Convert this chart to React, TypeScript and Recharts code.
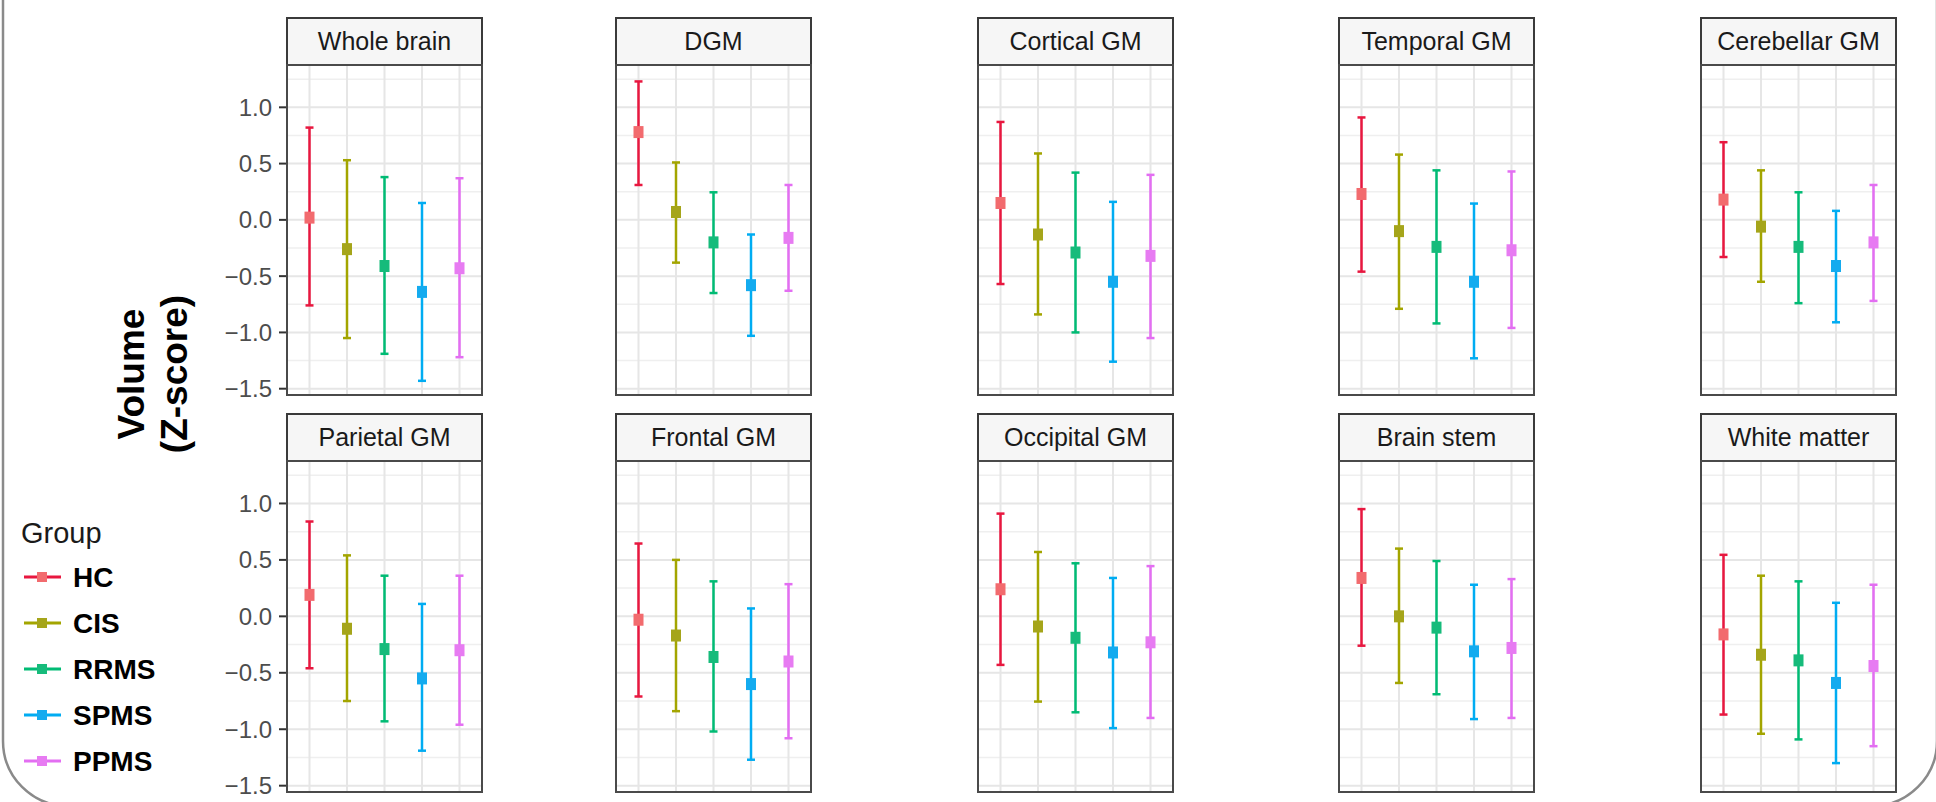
import { ComposedChart, Scatter, ErrorBar, XAxis, YAxis, CartesianGrid } from 'recharts'

const groups = ['HC', 'CIS', 'RRMS', 'SPMS', 'PPMS']
const barColors = ['#e8173f', '#a3a500', '#00bb74', '#00acf2', '#e36ef2']
const pointColors = ['#f26b6e', '#a5a51a', '#16bb7b', '#14abef', '#e77bf2']

const regions = [
  'Whole brain', 'DGM', 'Cortical GM', 'Temporal GM', 'Cerebellar GM',
  'Parietal GM', 'Frontal GM', 'Occipital GM', 'Brain stem', 'White matter',
]

// group means (Z-score), one row per region, groups in order HC..PPMS
const means = [
  [0.02, -0.26, -0.41, -0.64, -0.43],
  [0.78, 0.07, -0.2, -0.58, -0.16],
  [0.15, -0.13, -0.29, -0.55, -0.32],
  [0.23, -0.1, -0.24, -0.55, -0.27],
  [0.18, -0.06, -0.24, -0.41, -0.2],
  [0.19, -0.11, -0.29, -0.55, -0.3],
  [-0.03, -0.17, -0.36, -0.6, -0.4],
  [0.24, -0.09, -0.19, -0.32, -0.23],
  [0.34, 0.0, -0.1, -0.31, -0.28],
  [-0.16, -0.34, -0.39, -0.59, -0.44],
]

const uppers = [
  [0.82, 0.53, 0.38, 0.15, 0.37],
  [1.23, 0.51, 0.245, -0.13, 0.31],
  [0.87, 0.59, 0.42, 0.16, 0.4],
  [0.91, 0.58, 0.44, 0.145, 0.43],
  [0.69, 0.44, 0.245, 0.08, 0.31],
  [0.84, 0.54, 0.36, 0.11, 0.36],
  [0.645, 0.5, 0.31, 0.07, 0.285],
  [0.91, 0.57, 0.47, 0.34, 0.445],
  [0.95, 0.6, 0.49, 0.28, 0.33],
  [0.545, 0.36, 0.31, 0.12, 0.28],
]

const lowers = [
  [-0.76, -1.05, -1.19, -1.43, -1.22],
  [0.31, -0.38, -0.65, -1.03, -0.63],
  [-0.57, -0.84, -1.0, -1.26, -1.05],
  [-0.46, -0.79, -0.92, -1.23, -0.96],
  [-0.33, -0.55, -0.74, -0.91, -0.72],
  [-0.46, -0.75, -0.93, -1.19, -0.96],
  [-0.71, -0.84, -1.02, -1.27, -1.08],
  [-0.43, -0.755, -0.85, -0.99, -0.9],
  [-0.26, -0.59, -0.69, -0.91, -0.9],
  [-0.87, -1.04, -1.09, -1.3, -1.15],
]

const yTicks = [-1.5, -1, -0.5, 0, 0.5, 1]
const minorTicks = [-1.25, -0.75, -0.25, 0.25, 0.75, 1.25]
const xPositions = [1, 2, 3, 4, 5]

const COL_LEFT = [287, 616, 978, 1339, 1701]
const PANEL_W = 195
const ROWS = [
  { strip: 18, top: 65, h: 330 },
  { strip: 414, top: 461, h: 331 },
]
const STRIP_H = 47
const AXIS_W = 80
const PAD_B = 20
const FONT = '"Liberation Sans", Arial, Helvetica, sans-serif'

const fmt = (v: number) => (v < 0 ? '\u2212' : '') + Math.abs(v).toFixed(1)

function Panel({ idx }: { idx: number }) {
  const row = Math.floor(idx / 5)
  const col = idx % 5
  const r = ROWS[row]
  const first = col === 0
  const left = COL_LEFT[col] - (first ? AXIS_W : 0)
  const width = PANEL_W + (first ? AXIS_W : 0)

  return (
    <>
      <div
        style={{
          position: 'absolute',
          left: COL_LEFT[col] - 1,
          top: r.strip - 1,
          width: PANEL_W + 2,
          height: STRIP_H + 2,
          border: '2px solid #3a3a3a',
          boxSizing: 'border-box',
          background: '#f6f6f6',
          color: '#1a1a1a',
          fontSize: 25,
          lineHeight: `${STRIP_H - 2}px`,
          textAlign: 'center',
          whiteSpace: 'nowrap',
        }}
      >
        {regions[idx]}
      </div>
      <div style={{ position: 'absolute', left, top: r.top }}>
        <ComposedChart width={width} height={r.h + PAD_B} margin={{ top: 0, right: 0, bottom: PAD_B, left: 0 }}>
          <CartesianGrid horizontalValues={minorTicks} vertical={false} stroke="#efefef" strokeWidth={1.5} />
          <CartesianGrid horizontalValues={yTicks} verticalValues={xPositions} stroke="#e6e6e6" strokeWidth={2} />
          <XAxis type="number" dataKey="x" domain={[0.4, 5.6]} ticks={xPositions} hide />
          <YAxis
            type="number"
            dataKey="mean"
            domain={[-1.556, 1.376]}
            allowDataOverflow
            ticks={yTicks}
            interval={0}
            width={AXIS_W}
            hide={!first}
            tickFormatter={fmt}
            axisLine={false}
            tickLine={{ stroke: '#333', strokeWidth: 2 }}
            tickSize={8}
            tickMargin={7}
            tick={{ fill: '#4d4d4d', fontSize: 24, fontFamily: FONT }}
          />
          {groups.map((g, gi) => (
            <Scatter
              key={g}
              name={g}
              isAnimationActive={false}
              data={[
                {
                  x: gi + 1,
                  mean: means[idx][gi],
                  err: [means[idx][gi] - lowers[idx][gi], uppers[idx][gi] - means[idx][gi]],
                },
              ]}
              shape={(p: any) => (
                <rect x={p.cx - 5} y={p.cy - 6} width={10} height={12} fill={pointColors[gi]} />
              )}
            >
              <ErrorBar
                dataKey="err"
                direction="y"
                width={4}
                stroke={barColors[gi]}
                strokeWidth={2.5}
                isAnimationActive={false}
              />
            </Scatter>
          ))}
        </ComposedChart>
      </div>
      <div
        style={{
          position: 'absolute',
          left: COL_LEFT[col] - 1,
          top: r.top - 1,
          width: PANEL_W + 2,
          height: r.h + 2,
          border: '2px solid #4a4a4a',
          boxSizing: 'border-box',
          pointerEvents: 'none',
        }}
      />
    </>
  )
}

export default function App() {
  return (
    <div
      style={{
        position: 'absolute',
        left: 0,
        top: 0,
        width: 1936,
        height: 802,
        overflow: 'hidden',
        background: '#fff',
        fontFamily: FONT,
      }}
    >
      <svg width={1936} height={802} style={{ position: 'absolute', left: 0, top: 0 }}>
        <rect x={3} y={-80} width={1934} height={886} rx={65} fill="none" stroke="#8a8a8a" strokeWidth={2.5} />
        <g fontFamily={FONT} fontWeight="bold" fontSize={37} fill="#000">
          <text transform="translate(144, 374) rotate(-90)" textAnchor="middle">Volume</text>
          <text transform="translate(187, 374) rotate(-90)" textAnchor="middle">(Z-score)</text>
        </g>
        <g fontFamily={FONT}>
          <text x={21} y={543} fontSize={29} fill="#1a1a1a">Group</text>
          {groups.map((g, i) => {
            const cy = 577 + i * 46
            return (
              <g key={g}>
                <line x1={24} x2={61} y1={cy} y2={cy} stroke={barColors[i]} strokeWidth={3} />
                <rect x={37} y={cy - 5} width={10} height={10} fill={pointColors[i]} />
                <text x={73} y={cy + 10} fontSize={28} fontWeight="bold" fill="#000">{g}</text>
              </g>
            )
          })}
        </g>
      </svg>
      {regions.map((_, i) => (
        <Panel key={i} idx={i} />
      ))}
    </div>
  )
}
